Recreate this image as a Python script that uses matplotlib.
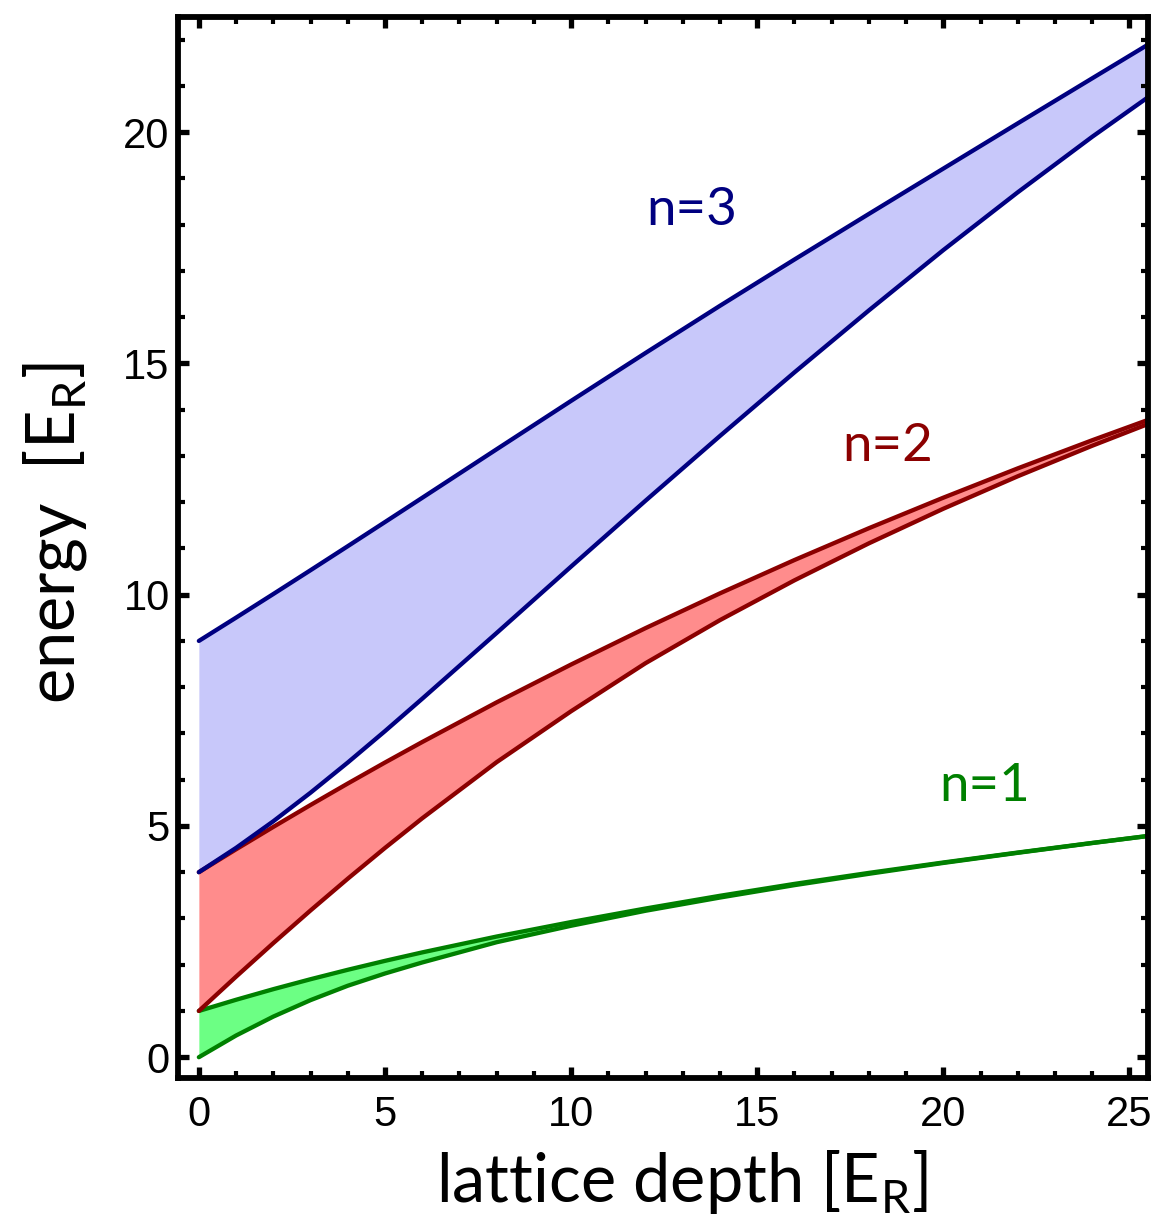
import numpy as np
import matplotlib
matplotlib.use("Agg")
import matplotlib.pyplot as plt
from matplotlib.ticker import MultipleLocator

plt.rcParams['mathtext.fontset'] = 'custom'
plt.rcParams['mathtext.rm'] = 'Lato'

# lattice depth [E_R] and band edges [E_R]
depth = [0, 1, 2, 3, 4, 5, 6, 8, 10, 12, 14, 16, 18, 20, 22, 24, 25.5]
n1_low = [0, 0.469, 0.878, 1.234, 1.545, 1.81, 2.048, 2.486, 2.842, 3.166, 3.452, 3.72, 3.965, 4.2, 4.419, 4.63, 4.782]
n1_high = [1, 1.242, 1.471, 1.686, 1.890, 2.083, 2.266, 2.609, 2.922, 3.215, 3.49, 3.747, 3.985, 4.21, 4.425, 4.633, 4.784]
n2_low = [1, 1.742, 2.467, 3.173, 3.859, 4.524, 5.165, 6.379, 7.48, 8.519, 9.45, 10.31, 11.11, 11.858, 12.56, 13.22, 13.69]
n2_high = [4, 4.495, 4.979, 5.453, 5.917, 6.371, 6.814, 7.672, 8.49, 9.277, 10.029, 10.749, 11.437, 12.097, 12.731, 13.339, 13.779]
n3_low = [4, 4.526, 5.101, 5.719, 6.371, 7.05, 7.75, 9.172, 10.608, 12.032, 13.432, 14.806, 16.146, 17.45, 18.70, 19.90, 20.755]
n3_high = [9, 9.504, 10.014, 10.529, 11.048, 11.57, 12.094, 13.144, 14.19, 15.226, 16.246, 17.246, 18.232, 19.212, 20.19, 21.164, 21.893]

bands = [
    (n1_low, n1_high, "#008000", "#6cff84", "n=1", (21.1, 5.85)),
    (n2_low, n2_high, "#8b0000", "#ff8c8c", "n=2", (18.5, 13.2)),
    (n3_low, n3_high, "#000080", "#c8c8fa", "n=3", (13.25, 18.3)),
]

fig = plt.figure(figsize=(11.62, 12.21), dpi=100)
ax = fig.add_axes([0.1532, 0.1171, 0.8348, 0.869])

for low, high, lc, fc, name, pos in bands:
    ax.fill_between(depth, low, high, color=fc, lw=0)
    ax.plot(depth, low, color=lc, lw=3.1, solid_capstyle='round', solid_joinstyle='round')
    ax.plot(depth, high, color=lc, lw=3.1, solid_capstyle='round', solid_joinstyle='round')
    ax.text(pos[0], pos[1], name, color=lc, fontsize=38, family='Lato',
            ha='center', va='center')

ax.set_xlim(-0.56, 25.5)
ax.set_ylim(-0.45, 22.49)

ax.xaxis.set_major_locator(MultipleLocator(5))
ax.xaxis.set_minor_locator(MultipleLocator(1))
ax.yaxis.set_major_locator(MultipleLocator(5))
ax.yaxis.set_minor_locator(MultipleLocator(1))
ax.tick_params(which='both', direction='in', top=True, right=True)
ax.tick_params(which='major', length=8, width=3.8)
ax.tick_params(which='minor', length=5, width=3)
ax.tick_params(axis='x', pad=12)
ax.tick_params(axis='y', pad=6)
for lab in ax.get_xticklabels() + ax.get_yticklabels():
    lab.set_fontfamily('Liberation Sans')
    lab.set_fontsize(30)
for s in ax.spines.values():
    s.set_linewidth(4.2)

fig.text(682 / 1162, 1 - 1182 / 1221, r"lattice depth [E$_{\mathrm{R}}$]",
         fontsize=48, family='Lato', ha='center', va='center')
fig.text(55 / 1162, 1 - 533 / 1221, r"energy  [E$_{\mathrm{R}}$]",
         fontsize=48, family='Lato', ha='center', va='center', rotation=90)

fig.savefig("out.png", dpi=100)
